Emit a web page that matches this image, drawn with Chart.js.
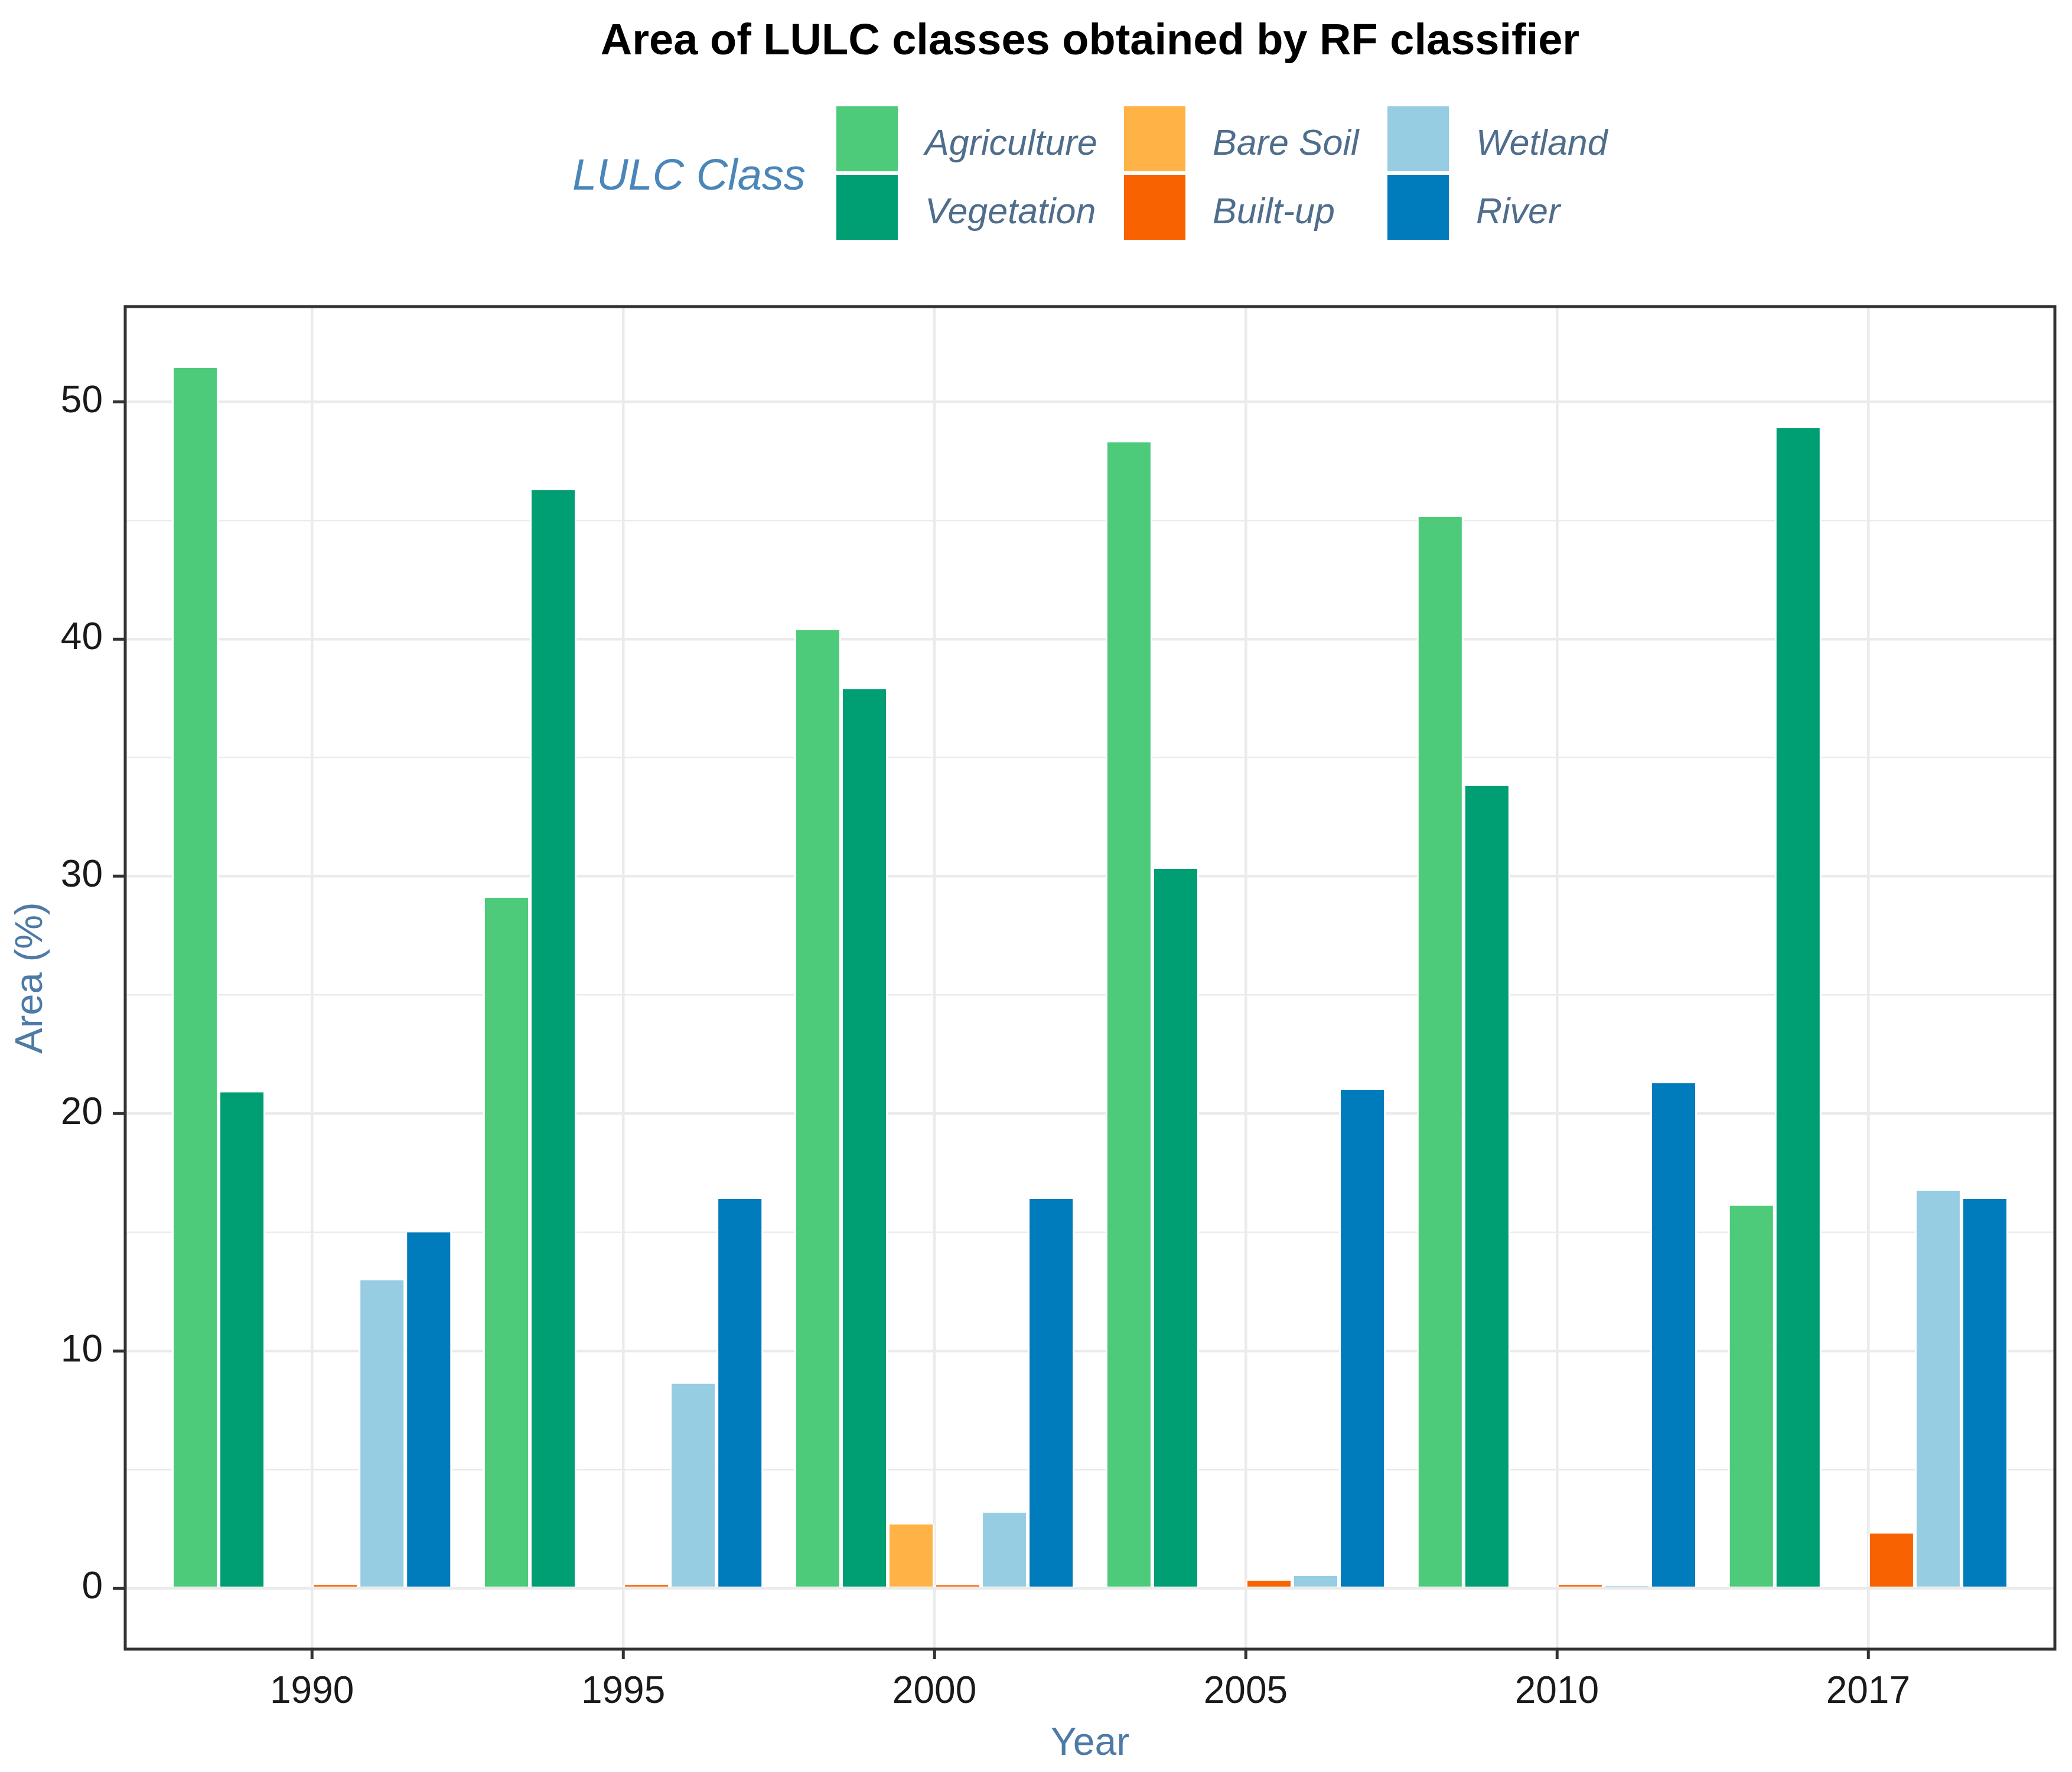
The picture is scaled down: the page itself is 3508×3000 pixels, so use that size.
<!DOCTYPE html>
<html>
<head>
<meta charset="utf-8">
<script src="https://cdn.jsdelivr.net/npm/chart.js@4/dist/chart.umd.min.js"></script>
<style>
  html, body { margin: 0; padding: 0; background: #ffffff; }
  canvas { display: block; }
</style>
</head>
<body>
<canvas id="c" width="3508" height="3000"></canvas>
<script>
// ---- data ----
const years = ['1990', '1995', '2000', '2005', '2010', '2017'];
const agriculture = [51.43, 29.10, 40.37, 48.29, 45.15, 16.12];
const vegetation  = [20.90, 46.27, 37.89, 30.32, 33.81, 48.88];
const bareSoil    = [0, 0, 2.69, 0, 0, 0];
const builtUp     = [0.14, 0.14, 0.12, 0.31, 0.14, 2.30];
const wetland     = [12.98, 8.62, 3.18, 0.52, 0.10, 16.75];
const river       = [15.00, 16.40, 16.40, 21.00, 21.28, 16.40];
const classNames  = ['Agriculture', 'Vegetation', 'Bare Soil', 'Built-up', 'Wetland', 'River'];
const classColors = ['#4DCB7B', '#009E73', '#FFB347', '#F86200', '#96CDE3', '#007BBB'];
const yTickValues = [0, 5, 10, 15, 20, 25, 30, 35, 40, 45, 50];
const titleText = 'Area of LULC classes obtained by RF classifier';
const legendTitle = 'LULC Class';
const xTitle = 'Year';
const yTitle = 'Area (%)';

const series = [agriculture, vegetation, bareSoil, builtUp, wetland, river];
const FONT = '"Liberation Sans", Arial, sans-serif';

const datasets = series.map((vals, k) => ({
  label: classNames[k],
  data: vals.map((v, i) => ({ x: i, y: v })),
  backgroundColor: classColors[k],
  borderColor: '#ffffff',
  borderWidth: { left: 3, right: 3, top: 0, bottom: 0 },
  borderSkipped: 'start',
  categoryPercentage: 0.9,
  barPercentage: 1.0
}));

const decor = {
  id: 'decor',
  beforeDraw(chart) {
    const ctx = chart.ctx;
    ctx.save();
    ctx.fillStyle = '#ffffff';
    ctx.fillRect(0, 0, chart.width, chart.height);
    ctx.restore();
  },
  afterDatasetsDraw(chart) {
    const { ctx, chartArea: a } = chart;
    ctx.save();
    ctx.strokeStyle = '#333333';
    ctx.lineWidth = 5;
    ctx.strokeRect(a.left, a.top, a.right - a.left, a.bottom - a.top);
    ctx.restore();
  },
  afterDraw(chart) {
    const { ctx, chartArea: a } = chart;
    ctx.save();
    // title
    ctx.fillStyle = '#000000';
    ctx.font = 'bold 74px ' + FONT;
    ctx.textAlign = 'center';
    ctx.textBaseline = 'middle';
    ctx.fillText(titleText, (a.left + a.right) / 2, 72);

    // legend
    ctx.font = 'italic 74px ' + FONT;
    ctx.fillStyle = '#4A86B8';
    ctx.textAlign = 'left';
    ctx.fillText(legendTitle, 969, 300);

    const colX = [1414, 1901, 2347];
    const rowY = [178, 294];
    const keyW = 108, keyH = 114;
    ctx.font = 'italic 61px ' + FONT;
    chart.data.datasets.forEach((ds, k) => {
      const col = Math.floor(k / 2), row = k % 2;
      const x = colX[col], y = rowY[row];
      ctx.fillStyle = ds.backgroundColor;
      ctx.fillRect(x, y, keyW, keyH);
      ctx.strokeStyle = '#ffffff';
      ctx.lineWidth = 4;
      ctx.strokeRect(x, y, keyW, keyH);
      ctx.fillStyle = '#4F6D8C';
      ctx.textBaseline = 'middle';
      ctx.fillText(ds.label, x + keyW + 44, y + keyH / 2 + 10);
    });
    ctx.restore();
  }
};

new Chart(document.getElementById('c'), {
  type: 'bar',
  data: { datasets },
  plugins: [decor],
  options: {
    responsive: false,
    devicePixelRatio: 1,
    animation: false,
    layout: { padding: { left: 0, right: 29, top: 519, bottom: 0 } },
    plugins: {
      legend: { display: false },
      title: { display: false },
      tooltip: { enabled: false }
    },
    scales: {
      x: {
        type: 'linear',
        min: -0.6,
        max: years.length - 1 + 0.6,
        offset: false,
        afterBuildTicks(scale) { scale.ticks = years.map((_, i) => ({ value: i })); },
        afterFit(scale) { scale.height = 208; },
        ticks: {
          autoSkip: false,
          maxRotation: 0,
          padding: 18,
          color: '#1a1a1a',
          font: { family: FONT, size: 64 },
          callback: (v) => (years[v] !== undefined ? years[v] : '')
        },
        grid: {
          offset: false,
          color: '#EBEBEB',
          lineWidth: 4.5,
          tickColor: '#333333',
          tickWidth: 5,
          tickLength: 17
        },
        border: { display: false },
        title: {
          display: true,
          text: xTitle,
          color: '#4D7AA6',
          font: { family: FONT, size: 66 },
          padding: { top: 0, bottom: 8 }
        }
      },
      y: {
        type: 'linear',
        min: -2.57,
        max: 54.01,
        afterBuildTicks(scale) { scale.ticks = yTickValues.map(v => ({ value: v })); },
        afterFit(scale) { scale.width = 212; },
        ticks: {
          padding: 17,
          color: '#1a1a1a',
          font: { family: FONT, size: 64 },
          callback: (v) => (v % 10 === 0 ? String(v) : '')
        },
        grid: {
          color: '#EBEBEB',
          lineWidth: (c) => (c.tick && c.tick.value % 10 === 0 ? 4.5 : 2.5),
          tickColor: (c) => (c.tick && c.tick.value % 10 === 0 ? '#333333' : 'rgba(0,0,0,0)'),
          tickWidth: 5,
          tickLength: 21
        },
        border: { display: false },
        title: {
          display: true,
          text: yTitle,
          color: '#4D7AA6',
          font: { family: FONT, size: 65 },
          padding: { top: 14, bottom: 0 }
        }
      }
    }
  }
});
</script>
</body>
</html>
